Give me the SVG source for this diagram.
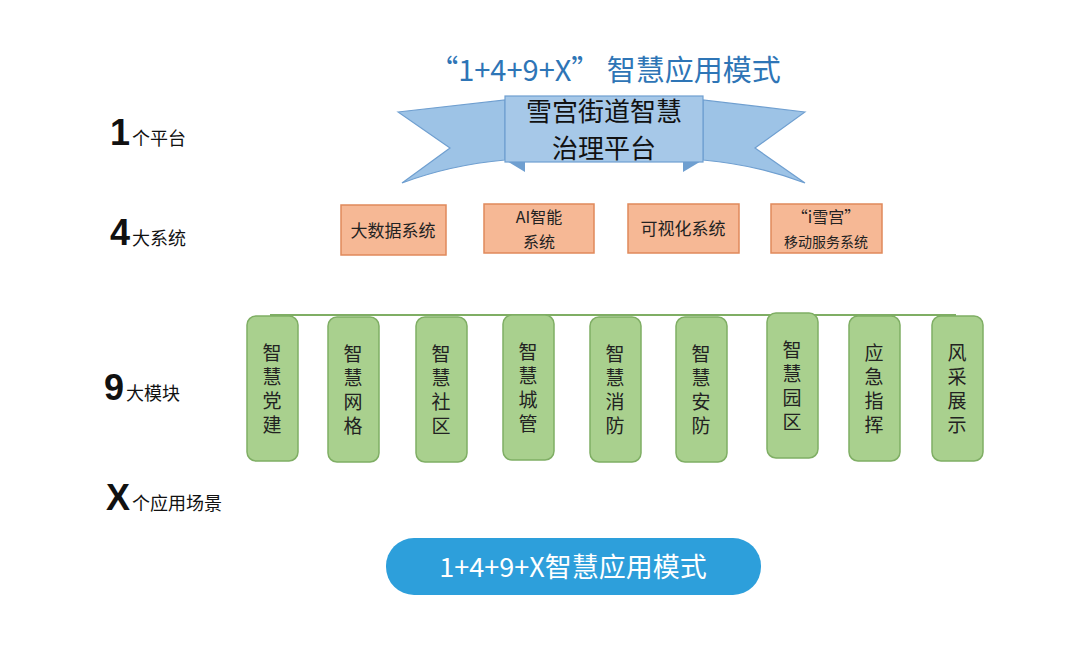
<svg xmlns="http://www.w3.org/2000/svg" width="1080" height="664" viewBox="0 0 1080 664">
<style>
.cn{font-family:"Noto Sans CJK SC","Liberation Sans",sans-serif}
.sys rect{fill:#f6b895;stroke:#e0895b;stroke-width:1.5}
.sys text{font-family:"Noto Sans CJK SC",sans-serif;font-size:17px;fill:#222;text-anchor:middle}
.mod rect{fill:#a9d08e;stroke:#7fae64;stroke-width:1.5}
.mod text{font-family:"Noto Sans CJK SC",sans-serif;font-size:19px;fill:#222;writing-mode:vertical-rl;letter-spacing:5px;text-anchor:middle}
.big{font-family:"Liberation Sans",sans-serif;font-weight:bold;font-size:36px;fill:#111}
.sm{font-family:"Noto Sans CJK SC",sans-serif;font-weight:normal;font-size:18px;fill:#111}
</style>
<rect width="1080" height="664" fill="#fff"/>
<text x="605" y="81" text-anchor="middle" class="cn" font-size="29" fill="#2e75b6">“1+4+9+X”  智慧应用模式</text>
<g id="platform">
<path d="M398,112 L505,100 L505,160 Q450,165 402,183 L450,148 Z" fill="#9dc3e6" stroke="#6f9fd0" stroke-width="1.2"/>
<path d="M805,112 L703,100 L703,160 Q758,165 805,183 L755,148 Z" fill="#9dc3e6" stroke="#6f9fd0" stroke-width="1.2"/>
<path d="M505,160 L525,172 L525,160 Z M703,160 L683,172 L683,160 Z" fill="#6f9fd0"/>
<rect x="505" y="96" width="198" height="66" fill="#a6c8e8" stroke="#6f9fd0" stroke-width="1.2"/>
<text x="604" y="121" text-anchor="middle" class="cn" font-size="26" fill="#111">雪宫街道智慧</text>
<text x="604" y="158" text-anchor="middle" class="cn" font-size="26" fill="#111">治理平台</text>
</g>
<g id="labels">
<text x="110" y="145" class="big">1<tspan class="sm" dx="2">个平台</tspan></text>
<text x="110" y="245" class="big">4<tspan class="sm" dx="2">大系统</tspan></text>
<text x="104" y="400" class="big">9<tspan class="sm" dx="2">大模块</tspan></text>
<text x="106" y="510" class="big">X<tspan class="sm" dx="2">个应用场景</tspan></text>
</g>
<g id="connectors"><line x1="270" y1="315" x2="956" y2="315" stroke="#7fae64" stroke-width="2"/></g>
<g id="sys1" class="sys"><rect x="341" y="205" width="105" height="50"/><text x="393" y="237">大数据系统</text></g>
<g id="sys2" class="sys"><rect x="484" y="204" width="110" height="49"/><text x="539" y="223" style="font-size:16px">AI智能</text><text x="539" y="248" style="font-size:16px">系统</text></g>
<g id="sys3" class="sys"><rect x="628" y="204" width="111" height="49"/><text x="683" y="235">可视化系统</text></g>
<g id="sys4" class="sys"><rect x="771" y="204" width="111" height="49"/><text x="826" y="223" style="font-size:16px">“i雪宫”</text><text x="826" y="247" style="font-size:14px">移动服务系统</text></g>
<g id="m1" class="mod"><rect x="247" y="316" width="51" height="145" rx="9"/><text x="272" y="391">智慧党建</text></g>
<g id="m2" class="mod"><rect x="328" y="317" width="51" height="145" rx="9"/><text x="353" y="392">智慧网格</text></g>
<g id="m3" class="mod"><rect x="416" y="317" width="51" height="145" rx="9"/><text x="441" y="392">智慧社区</text></g>
<g id="m4" class="mod"><rect x="503" y="315" width="51" height="145" rx="9"/><text x="528" y="390">智慧城管</text></g>
<g id="m5" class="mod"><rect x="590" y="317" width="51" height="145" rx="9"/><text x="615" y="392">智慧消防</text></g>
<g id="m6" class="mod"><rect x="676" y="317" width="51" height="145" rx="9"/><text x="701" y="392">智慧安防</text></g>
<g id="m7" class="mod"><rect x="767" y="313" width="51" height="145" rx="9"/><text x="792" y="388">智慧园区</text></g>
<g id="m8" class="mod"><rect x="849" y="316" width="51" height="145" rx="9"/><text x="874" y="391">应急指挥</text></g>
<g id="m9" class="mod"><rect x="932" y="316" width="51" height="145" rx="9"/><text x="957" y="391">风采展示</text></g>
<g id="bottom"><rect x="386" y="538" width="375" height="57" rx="28" fill="#2d9fdb"/><text x="573" y="577" text-anchor="middle" class="cn" font-size="27" fill="#fff">1+4+9+X智慧应用模式</text></g>
</svg>
